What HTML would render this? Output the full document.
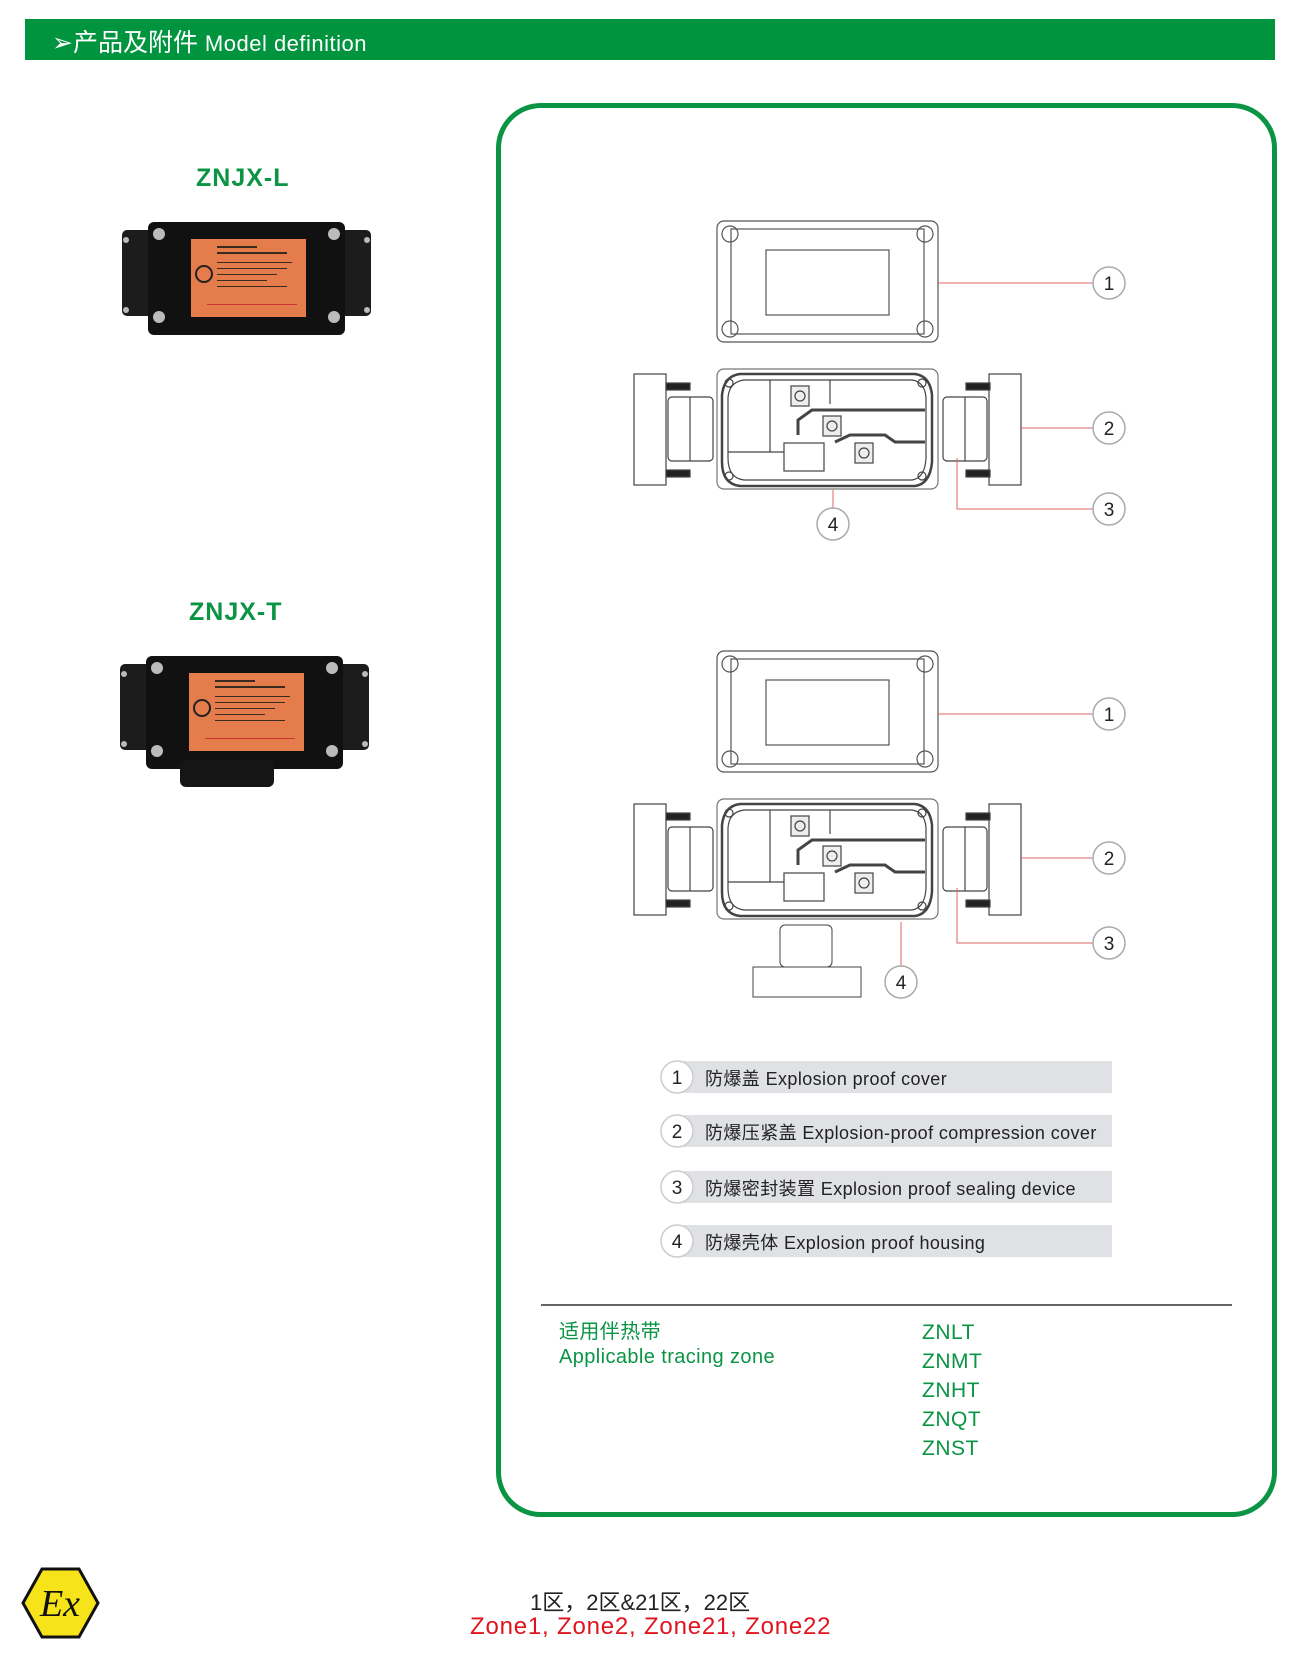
<!DOCTYPE html>
<html><head><meta charset="utf-8"><style>
body{margin:0;width:1300px;height:1663px;background:#fff;position:relative;overflow:hidden;font-family:"Liberation Sans","Noto Sans CJK SC",sans-serif}
.a{position:absolute;white-space:nowrap}
.g{color:#0a9444}
</style></head><body>
<div class="a" style="left:25px;top:19px;width:1250px;height:41px;background:#01943f"></div>
<div class="a" style="left:52px;top:23px;color:#fff;font-size:25px">➢产品及附件 <span style="font-size:22px;letter-spacing:0.5px">Model definition</span></div>
<div class="a" style="left:496px;top:103px;width:771px;height:1404px;border:5px solid #0a9444;border-radius:45px"></div>
<div class="a g" style="left:196px;top:164px;font-size:25px;font-weight:bold;letter-spacing:1px">ZNJX-L</div>
<div class="a g" style="left:189px;top:598px;font-size:25px;font-weight:bold;letter-spacing:1px">ZNJX-T</div>

<svg class="a" style="left:0;top:0" width="1300" height="1663">
<defs>
<g id="photo">
<rect x="0" y="8" width="249" height="86" rx="5" fill="#1c1c1c"/>
<rect x="26" y="0" width="197" height="113" rx="6" fill="#111"/>
<rect x="69" y="17" width="115" height="78" fill="#e47c4c"/>
<circle cx="82" cy="52" r="8" fill="none" stroke="#222" stroke-width="2"/>
<g fill="#3a2a20"><rect x="95" y="24" width="40" height="2"/><rect x="95" y="30" width="70" height="2"/><rect x="95" y="40" width="75" height="1"/><rect x="95" y="46" width="70" height="1"/><rect x="95" y="52" width="60" height="1"/><rect x="95" y="58" width="50" height="1"/><rect x="95" y="64" width="70" height="1"/></g>
<rect x="85" y="82" width="90" height="1" fill="#c33"/>
<g fill="#bbb"><circle cx="37" cy="12" r="6"/><circle cx="212" cy="12" r="6"/><circle cx="37" cy="95" r="6"/><circle cx="212" cy="95" r="6"/><circle cx="4" cy="18" r="3"/><circle cx="245" cy="18" r="3"/><circle cx="4" cy="88" r="3"/><circle cx="245" cy="88" r="3"/></g>
</g>
<g id="cover" fill="none" stroke="#555" stroke-width="1.2">
<rect x="717" y="221" width="221" height="121" rx="7"/>
<rect x="731" y="229" width="193" height="105"/>
<rect x="766" y="250" width="123" height="65"/>
<circle cx="730" cy="234" r="8"/><circle cx="925" cy="234" r="8"/><circle cx="730" cy="329" r="8"/><circle cx="925" cy="329" r="8"/>
</g>
<g id="house" fill="none" stroke="#444" stroke-width="1.2">
<rect x="717" y="369" width="221" height="120" rx="7" fill="#fff" stroke="#777"/>
<path d="M740 374 H915 Q930 376 932 395 V462 Q930 484 915 486 H740 Q722 484 722 462 V395 Q724 376 740 374Z" stroke-width="2.5"/>
<path d="M744 380 H912 Q925 382 926 398 V458 Q925 478 912 480 H744 Q728 478 728 458 V398 Q729 382 744 380Z"/>
<circle cx="729" cy="383" r="4"/><circle cx="922" cy="383" r="4"/><circle cx="729" cy="476" r="4"/><circle cx="922" cy="476" r="4"/>
<line x1="770" y1="380" x2="770" y2="452"/><line x1="830" y1="380" x2="830" y2="404"/>
<rect x="791" y="386" width="18" height="20" fill="#eee"/><circle cx="800" cy="396" r="5"/>
<rect x="823" y="416" width="18" height="20" fill="#eee"/><circle cx="832" cy="426" r="5"/>
<rect x="855" y="443" width="18" height="20" fill="#eee"/><circle cx="864" cy="453" r="5"/>
<path d="M798 435 V420 L812 410 H925" stroke-width="3"/>
<path d="M835 442 L850 435 H885 L895 442 H925" stroke-width="3"/>
<rect x="784" y="443" width="40" height="28"/><line x1="728" y1="452" x2="784" y2="452"/>
<rect x="634" y="374" width="32" height="111" fill="#fff"/>
<rect x="668" y="397" width="45" height="64" rx="4" fill="#fff"/><line x1="690" y1="397" x2="690" y2="461"/>
<rect x="666" y="383" width="24" height="7" fill="#222"/><rect x="666" y="470" width="24" height="7" fill="#222"/>
<rect x="989" y="374" width="32" height="111" fill="#fff"/>
<rect x="943" y="397" width="44" height="64" rx="4" fill="#fff"/><line x1="965" y1="397" x2="965" y2="461"/>
<rect x="966" y="383" width="24" height="7" fill="#222"/><rect x="966" y="470" width="24" height="7" fill="#222"/>
</g>
</defs>
<use href="#photo" x="122" y="222"/>
<use href="#photo" x="120" y="656"/>
<rect x="180" y="760" width="94" height="27" rx="6" fill="#151515"/>
<use href="#cover"/><use href="#house"/>
<use href="#cover" y="430"/><use href="#house" y="430"/>
<g fill="#fff" stroke="#444"><rect x="753" y="967" width="108" height="30"/><rect x="780" y="925" width="52" height="42" rx="5"/></g>
<g stroke="#d66" stroke-width="1" fill="none">
<path d="M938 283 H1093"/><path d="M1021 428 H1093"/><path d="M957 458 V509 H1093"/><path d="M833 490 V508"/>
<path d="M938 714 H1093"/><path d="M1021 858 H1093"/><path d="M957 888 V943 H1093"/><path d="M901 922 V966"/>
</g>
<g fill="#fff" stroke="#aaa" stroke-width="1.5">
<circle cx="1109" cy="283" r="16"/><circle cx="1109" cy="428" r="16"/><circle cx="1109" cy="509" r="16"/><circle cx="833" cy="524" r="16"/>
<circle cx="1109" cy="714" r="16"/><circle cx="1109" cy="858" r="16"/><circle cx="1109" cy="943" r="16"/><circle cx="901" cy="982" r="16"/>
</g>
<g font-family="Liberation Sans" font-size="19" text-anchor="middle" fill="#222">
<text x="1109" y="290">1</text><text x="1109" y="435">2</text><text x="1109" y="516">3</text><text x="833" y="531">4</text>
<text x="1109" y="721">1</text><text x="1109" y="865">2</text><text x="1109" y="950">3</text><text x="901" y="989">4</text>
</g>
<g fill="#dfe1e4"><rect x="679" y="1061" width="433" height="32"/><rect x="679" y="1115" width="433" height="32"/><rect x="679" y="1171" width="433" height="32"/><rect x="679" y="1225" width="433" height="32"/></g>
<g fill="#fff" stroke="#ccc" stroke-width="1.5"><circle cx="677" cy="1077" r="16"/><circle cx="677" cy="1131" r="16"/><circle cx="677" cy="1187" r="16"/><circle cx="677" cy="1241" r="16"/></g>
<g font-size="19" text-anchor="middle" fill="#222"><text x="677" y="1084">1</text><text x="677" y="1138">2</text><text x="677" y="1194">3</text><text x="677" y="1248">4</text></g>
<line x1="541" y1="1305" x2="1232" y2="1305" stroke="#333" stroke-width="1.5"/>
<polygon points="42,1569 79,1569 98,1603 79,1637 42,1637 23,1603" fill="#f7e31a" stroke="#111" stroke-width="3"/>
<text x="60" y="1616" font-family="Liberation Serif" font-style="italic" font-size="38" text-anchor="middle" fill="#111">Ex</text>
</svg>
<div class="a" style="left:705px;top:1065px;font-size:18px;color:#222;letter-spacing:0.4px">防爆盖 Explosion proof cover</div>
<div class="a" style="left:705px;top:1119px;font-size:18px;color:#222;letter-spacing:0.4px">防爆压紧盖 Explosion-proof compression cover</div>
<div class="a" style="left:705px;top:1175px;font-size:18px;color:#222;letter-spacing:0.4px">防爆密封装置 Explosion proof sealing device</div>
<div class="a" style="left:705px;top:1229px;font-size:18px;color:#222;letter-spacing:0.4px">防爆壳体 Explosion proof housing</div>
<div class="a g" style="left:559px;top:1320px;font-size:20px;line-height:25px;letter-spacing:0.4px">适用伴热带<br>Applicable tracing zone</div>
<div class="a g" style="left:922px;top:1318px;font-size:21px;line-height:29px;letter-spacing:0.5px">ZNLT<br>ZNMT<br>ZNHT<br>ZNQT<br>ZNST</div>
<div class="a" style="left:530px;top:1585px;font-size:22px;color:#222">1区，2区&amp;21区，22区</div>
<div class="a" style="left:470px;top:1613px;font-size:24px;color:#e0141e;letter-spacing:0.8px">Zone1, Zone2, Zone21, Zone22</div>
</body></html>
